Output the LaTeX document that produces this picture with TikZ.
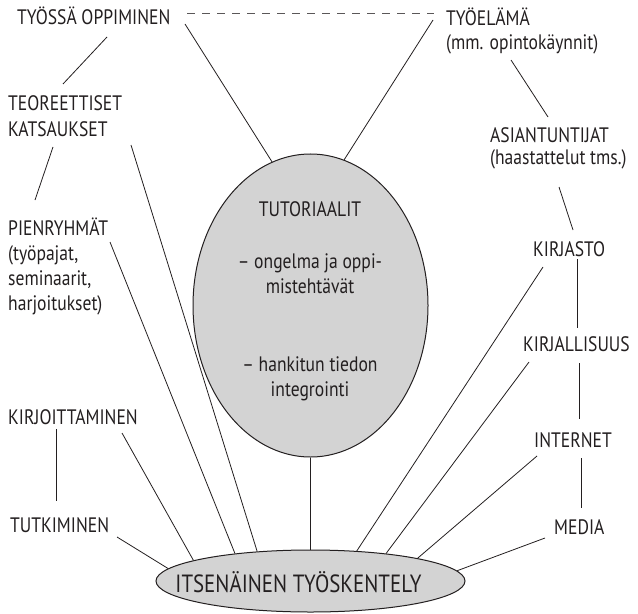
\documentclass[tikz,border=0pt]{standalone}
\usepackage{fontspec}
\setmainfont{PT Sans}[FakeStretch=0.84]
\usetikzlibrary{shapes.geometric}
\definecolor{ink}{HTML}{231F20}
\definecolor{fillg}{HTML}{D3D3D3}
\begin{document}
\begin{tikzpicture}[x=1bp,y=-1bp,
  txt/.style={inner sep=0pt, anchor=base west, align=left, text=ink, font=\fontsize{21}{25}\selectfont},
  conn/.style={draw=ink, line width=0.8bp},
  dashline/.style={draw=ink!75, line width=0.8bp, dash pattern=on 8bp off 7bp},
  bubble/.style={ellipse, draw=ink, line width=1bp, fill=fillg, inner sep=0pt}]
\useasboundingbox (0,0) rectangle (638,614);
% ellipses
\node[bubble, minimum width=235bp, minimum height=303bp] (tuto) at (310.5,305.5) {};
\node[bubble, minimum width=309bp, minimum height=62bp] (itse) at (310.5,581) {};
\node[txt, anchor=base, align=center] (tutotext) at (310,396)
  {TUTORIAALIT\\[27bp]– ongelma ja oppi-\\mistehtävät\\[53bp]– hankitun tiedon\\integrointi};
\node[txt, anchor=base, font=\fontsize{25}{30}\selectfont] (itsetext) at (298.5,592) {ITSENÄINEN TYÖSKENTELY};
% labels (base anchor = baseline of the last line)
\node[txt] (tyossa) at (17,25) {TYÖSSÄ OPPIMINEN};
\node[txt] (tyoelama) at (446,50) {TYÖELÄMÄ\\(mm. opintokäynnit)};
\node[txt, font=\fontsize{21}{27}\selectfont] (teor) at (8,137) {TEOREETTISET\\KATSAUKSET};
\node[txt, font=\fontsize{21}{23}\selectfont] (asian) at (490,165) {ASIANTUNTIJAT\\(haastattelut tms.)};
\node[txt] (pien) at (8,310) {PIENRYHMÄT\\(työpajat,\\seminaarit,\\harjoitukset)};
\node[txt] (kirjasto) at (533,256) {KIRJASTO};
\node[txt] (kirjall) at (523,351) {KIRJALLISUUS};
\node[txt] (internet) at (534,447) {INTERNET};
\node[txt] (media) at (554,534) {MEDIA};
\node[txt] (kirjoit) at (8,424) {KIRJOITTAMINEN};
\node[txt] (tutk) at (10,532) {TUTKIMINEN};
% connectors
\draw[dashline] ([shift={(170,-12)}]tyossa.base west) -- ([shift={(-12,-37)}]tyoelama.base west);
\draw[conn] ([shift={(168,-1)}]tyossa.base west) -- (tuto.105.5);
\draw[conn] ([shift={(90,12)}]tyossa.base west) -- ([shift={(55,-53)}]teor.base west);
\draw[conn] ([shift={(45,10)}]teor.base west) -- ([shift={(27,-110)}]pien.base west);
\draw[conn] ([shift={(123,8)}]teor.base west) -- (itse.151.5);
\draw[conn] ([shift={(102,-68)}]pien.base west) -- (itse.160.9);
\draw[conn] ([shift={(114,9)}]kirjoit.base west) -- (itse.170.1);
\draw[conn] ([shift={(48,5)}]kirjoit.base west) -- ([shift={(46,-31)}]tutk.base west);
\draw[conn] ([shift={(107,5)}]tutk.base west) -- (itse.175.4);
\draw[conn] (tuto.south) -- (itse.north);
\draw[conn] ([shift={(-13,-30)}]tyoelama.base west) -- (tuto.77);
\draw[conn] ([shift={(65,10)}]tyoelama.base west) -- ([shift={(58,-48)}]asian.base west);
\draw[conn] ([shift={(69,22)}]asian.base west) -- ([shift={(40,-26)}]kirjasto.base west);
\draw[conn] ([shift={(44,3)}]kirjasto.base west) -- ([shift={(54,-23)}]kirjall.base west);
\draw[conn] ([shift={(10,11)}]kirjasto.base west) -- (itse.33);
\draw[conn] ([shift={(56,12)}]kirjall.base west) -- ([shift={(45,-28)}]internet.base west);
\draw[conn] ([shift={(6,11)}]kirjall.base west) -- (itse.20.7);
\draw[conn] ([shift={(47,11)}]internet.base west) -- ([shift={(27,-26)}]media.base west);
\draw[conn] ([shift={(3,9)}]internet.base west) -- (itse.12.8);
\draw[conn] ([shift={(-9,4)}]media.base west) -- (itse.4.35);
\end{tikzpicture}
\end{document}
